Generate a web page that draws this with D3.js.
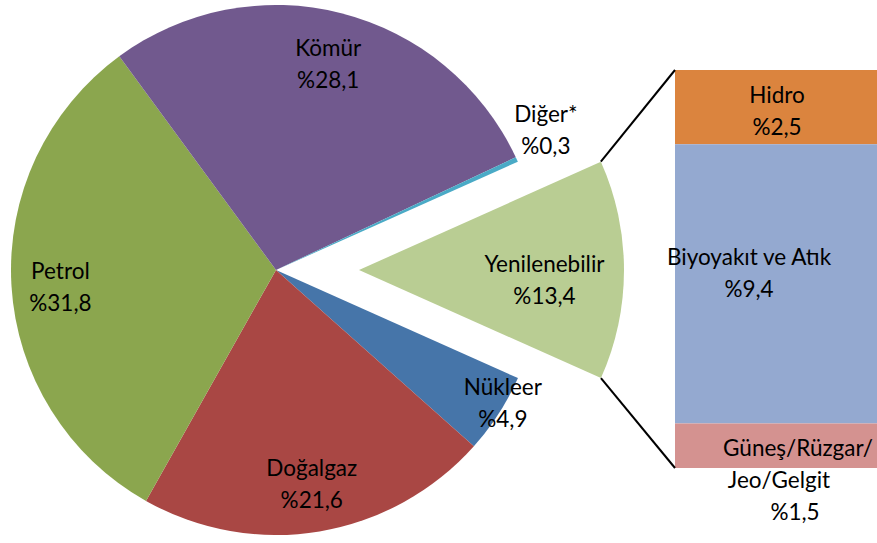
<!DOCTYPE html>
<html>
<head>
<meta charset="utf-8">
<script src="https://cdn.jsdelivr.net/npm/d3@7"></script>
<style>
  body { margin: 0; background: #fff; }
  svg text { font-family: Lato, "Open Sans", sans-serif; font-size: 22.5px; fill: #000; }
</style>
</head>
<body>
<svg class="chart" width="877" height="543"></svg>
<script>
// pie slices, in clockwise order starting from the exploded renewable slice
var sources = ["Yenilenebilir", "Nükleer", "Doğalgaz", "Petrol", "Kömür", "Diğer*"];
var shares = [13.4, 4.9, 21.6, 31.8, 28.1, 0.3];
var shareLabels = ["%13,4", "%4,9", "%21,6", "%31,8", "%28,1", "%0,3"];
var sliceColors = ["#b9cd93", "#4675a9", "#a94744", "#8ba64e", "#71598e", "#4aaac6"];

// breakdown of the renewable slice (bar on the right)
var renewables = ["Hidro", "Biyoyakıt ve Atık", "Güneş/Rüzgar/Jeo/Gelgit"];
var renewableShares = [2.5, 9.4, 1.5];
var renewableLabels = ["%2,5", "%9,4", "%1,5"];
var barColors = ["#db843e", "#94a9d0", "#d49290"];

var svg = d3.select("svg.chart");
var cx = 276, cy = 270, r = 265;
var explode = 83;
var lineGap = 32;

// renewable slice centred on the right horizontal
var renewAngle = shares[0] / 100 * 2 * Math.PI;
var pie = d3.pie()
    .sort(null)
    .startAngle(Math.PI / 2 - renewAngle / 2)
    .endAngle(Math.PI / 2 - renewAngle / 2 + 2 * Math.PI);

var arc = d3.arc().innerRadius(0).outerRadius(r);
var arcs = pie(shares);

var g = svg.append("g").attr("transform", "translate(" + cx + "," + cy + ")");

g.selectAll("path")
    .data(arcs)
    .enter()
    .append("path")
    .attr("d", arc)
    .attr("fill", function(d, i) { return sliceColors[i]; })
    .attr("transform", function(d, i) { return i == 0 ? "translate(" + explode + ",0)" : null; });

// label placement: default = along the mid angle at ~0.8r
function labelPos(d, i) {
    var a = (d.startAngle + d.endAngle) / 2, rho = 0.8 * r, ox = 0, oy = 0;
    if (i == 0) { rho = 0.7 * r; ox = explode; oy = 10; }
    if (i == 1) { a = 120.4 * Math.PI / 180; rho = 263; }   // Nükleer, outside-ish
    if (i == 2) { rho = 0.82 * r; }
    if (i == 3) { rho = 0.815 * r; oy = 4; }
    if (i == 5) { a = 62.6 * Math.PI / 180; rho = 304; }    // Diğer*, outside
    return [ox + rho * Math.sin(a), oy - rho * Math.cos(a)];
}

// two-line label centred on (0,0)
function twoLines(sel, a, b) {
    sel.append("tspan").attr("x", 0).attr("y", -lineGap / 2).attr("dy", "0.35em").text(a);
    sel.append("tspan").attr("x", 0).attr("y", lineGap / 2).attr("dy", "0.35em").text(b);
}

g.selectAll("text.slice")
    .data(arcs)
    .enter()
    .append("text")
    .attr("class", "slice")
    .attr("text-anchor", "middle")
    .attr("transform", function(d, i) { return "translate(" + labelPos(d, i) + ")"; })
    .each(function(d, i) { twoLines(d3.select(this), sources[i], shareLabels[i]); });

// bar of the renewable breakdown
var barX = 675, barW = 877 - 675;
var y = d3.scaleLinear()
    .domain([0, d3.sum(renewableShares)])
    .range([70, 468]);
var cum = d3.cumsum([0].concat(renewableShares));

svg.selectAll("rect.bar")
    .data(renewableShares)
    .enter()
    .append("rect")
    .attr("class", "bar")
    .attr("x", barX)
    .attr("width", barW)
    .attr("y", function(d, i) { return y(cum[i]); })
    .attr("height", function(d) { return y(d) - y(0); })
    .attr("fill", function(d, i) { return barColors[i]; });

// connector lines from the exploded slice to the bar
var r0 = arcs[0];
var pTop = [cx + explode + r * Math.sin(r0.startAngle), cy - r * Math.cos(r0.startAngle)];
var pBot = [cx + explode + r * Math.sin(r0.endAngle), cy - r * Math.cos(r0.endAngle)];
svg.append("line").attr("x1", pTop[0]).attr("y1", pTop[1]).attr("x2", barX).attr("y2", y(0))
    .attr("stroke", "#000").attr("stroke-width", 2);
svg.append("line").attr("x1", pBot[0]).attr("y1", pBot[1]).attr("x2", barX).attr("y2", y(cum[3]))
    .attr("stroke", "#000").attr("stroke-width", 2);

// bar labels
svg.append("text").attr("text-anchor", "middle")
    .attr("transform", "translate(777," + ((y(cum[0]) + y(cum[1])) / 2 + 4) + ")")
    .call(twoLines, renewables[0], renewableLabels[0]);

svg.append("text").attr("text-anchor", "middle")
    .attr("transform", "translate(749," + ((y(cum[1]) + y(cum[2])) / 2 - 11) + ")")
    .call(twoLines, renewables[1], renewableLabels[1]);

var sun = svg.append("text").attr("text-anchor", "middle")
    .attr("transform", "translate(790," + (y(cum[2]) + 25) + ")");
sun.append("tspan").attr("x", 8).attr("y", 0).attr("dy", "0.35em").text("Güneş/Rüzgar/");
sun.append("tspan").attr("x", -11).attr("y", lineGap).attr("dy", "0.35em").text("Jeo/Gelgit");
sun.append("tspan").attr("x", 5).attr("y", 2 * lineGap).attr("dy", "0.35em").text(renewableLabels[2]);
</script>
</body>
</html>
